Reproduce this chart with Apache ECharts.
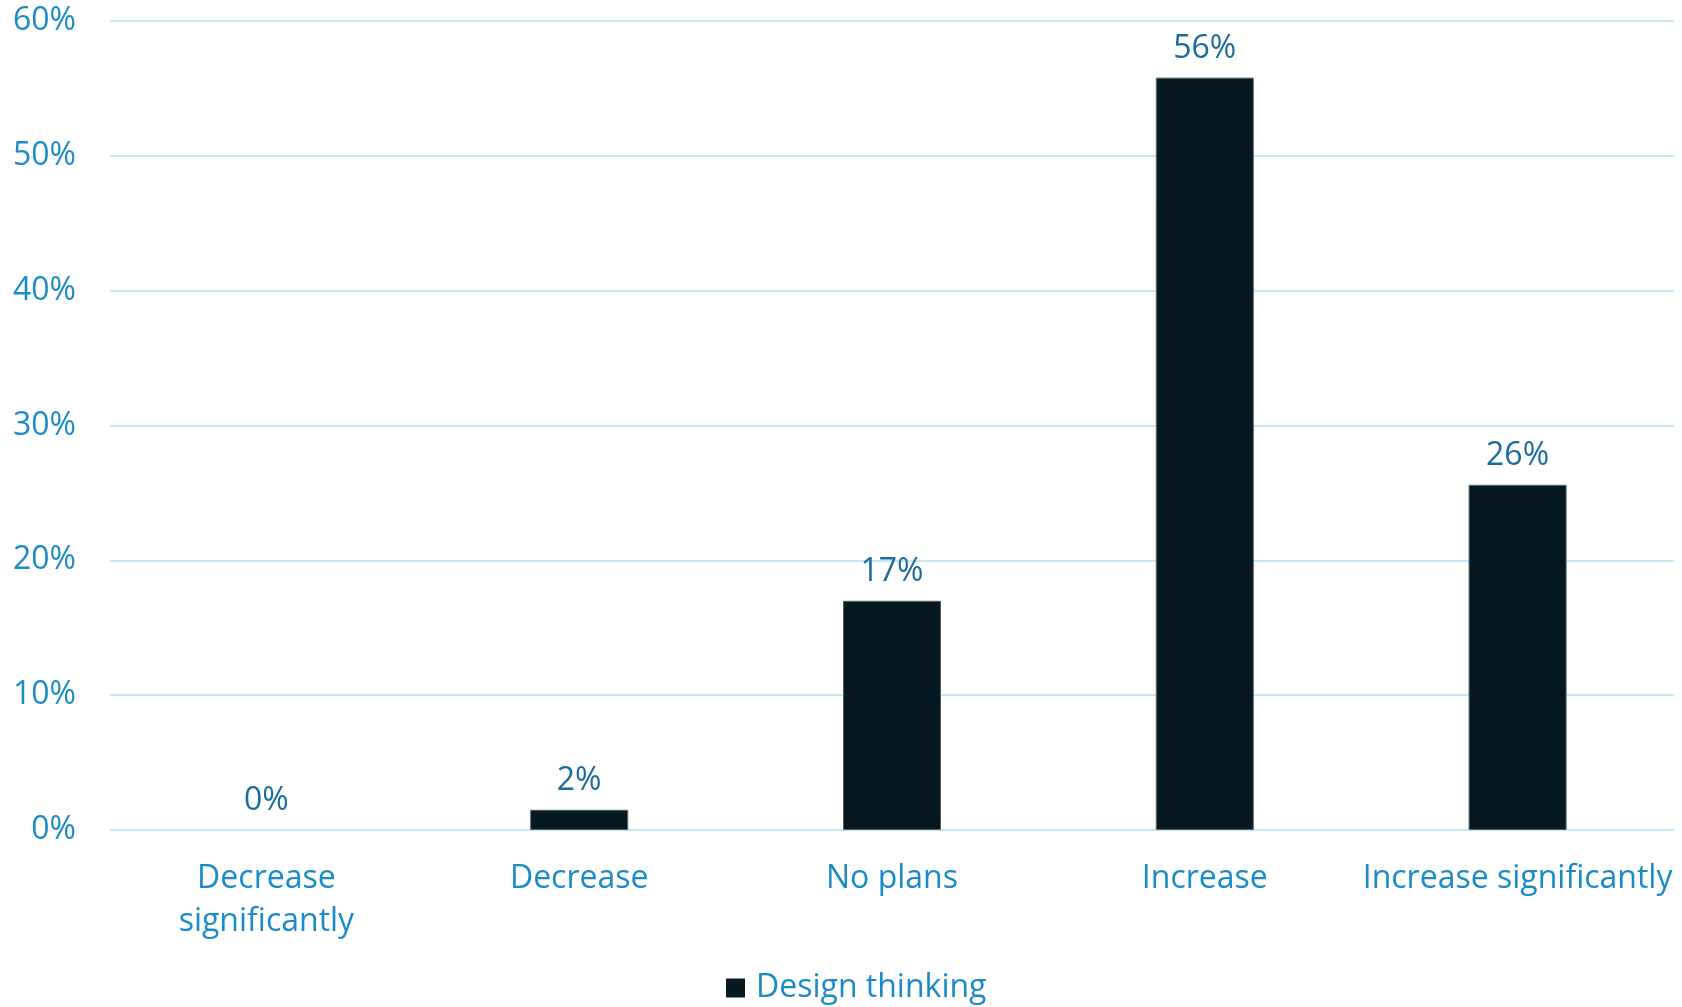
<!DOCTYPE html>
<html>
<head>
<meta charset="utf-8">
<script src="https://cdn.jsdelivr.net/npm/echarts@6/dist/echarts.min.js"></script>
<style>
html,body{margin:0;padding:0;background:#fff;}
#chart{width:1682px;height:1007px;}
</style>
</head>
<body>
<div id="chart"></div>
<script>
const categories = ['Decrease\nsignificantly', 'Decrease', 'No plans', 'Increase', 'Increase significantly'];
const seriesName = 'Design thinking';
const values = [0, 1.5, 17.0, 55.8, 25.6];
const yTicks = [0, 10, 20, 30, 40, 50, 60];

const FONT = '"Open Sans", "Noto Sans", sans-serif';
const chart = echarts.init(document.getElementById('chart'));
chart.setOption({
  animation: false,
  backgroundColor: '#ffffff',
  grid: { left: 110, right: 8, top: 21, bottom: 177, containLabel: false },
  legend: {
    data: [seriesName],
    left: 721,
    top: 967,
    icon: 'rect',
    itemWidth: 19,
    itemHeight: 19,
    itemStyle: { borderWidth: 0 },
    textStyle: { color: '#1b8bc8', fontSize: 32, fontFamily: FONT, padding: [0, 0, 0, 6] }
  },
  xAxis: {
    type: 'category',
    data: categories,
    axisLine: { show: false },
    axisTick: { show: false },
    axisLabel: {
      interval: 0,
      color: '#1b8bc8',
      fontSize: 32,
      fontFamily: FONT,
      lineHeight: 43,
      margin: 27,
      overflow: 'none'
    }
  },
  yAxis: {
    type: 'value',
    min: yTicks[0],
    max: yTicks[yTicks.length - 1],
    interval: 10,
    axisLine: { show: false },
    axisTick: { show: false },
    splitLine: { lineStyle: { color: '#c6e6f7', width: 2 } },
    axisLabel: {
      color: '#1b8bc8',
      fontSize: 32,
      fontFamily: FONT,
      margin: 34,
      formatter: v => v + '%'
    }
  },
  series: [{
    name: seriesName,
    type: 'bar',
    data: values.map(v => v === 0 ? { value: v, itemStyle: { borderWidth: 0 } } : v),
    barWidth: 98,
    itemStyle: { color: '#061820', borderColor: '#55636a', borderWidth: 1 },
    label: {
      show: true,
      position: 'top',
      distance: 13,
      color: '#1a6c9a',
      fontSize: 32,
      fontFamily: FONT,
      formatter: p => Math.round(p.value) + '%'
    }
  }]
});
</script>
</body>
</html>
